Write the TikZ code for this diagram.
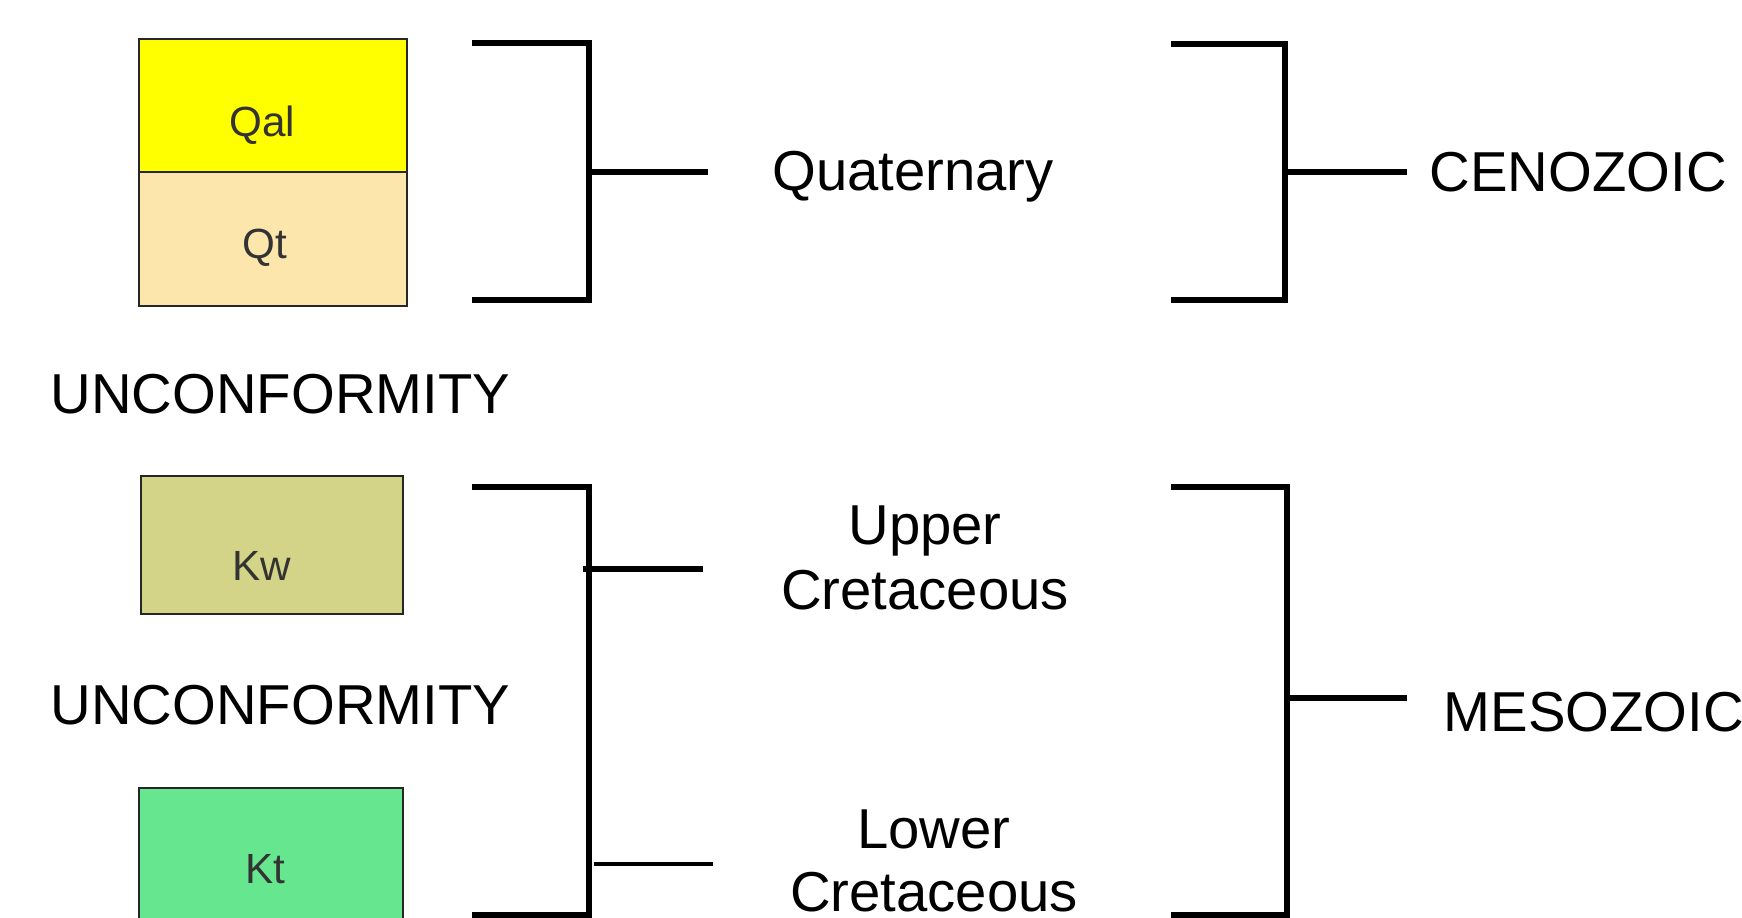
\documentclass[tikz,border=0pt]{standalone}
\usepackage{fontspec}
\setmainfont{Liberation Sans}
\definecolor{qalyellow}{HTML}{FFFF00}
\definecolor{qttan}{HTML}{FCE6AC}
\definecolor{kwolive}{HTML}{D3D487}
\definecolor{ktgreen}{HTML}{66E68E}
\tikzset{
  unit/.style={draw=black!85, line width=0.8pt},
  era/.style={font=\fontsize{16}{18}\selectfont, inner sep=0pt, anchor=base},
  unitlbl/.style={font=\fontsize{12}{14}\selectfont, text=black!80, inner sep=0pt, anchor=base},
  brk/.style={line width=1.85pt},
}

\begin{document}
\begin{tikzpicture}[x=0.01cm,y=-0.01cm]
        \useasboundingbox (0,0) rectangle (1742,918);
        % map units
        \draw[unit,fill=qalyellow] (139,39) rectangle (407,172);
        \draw[unit,fill=qttan] (139,172) rectangle (407,306);
        \draw[unit,fill=kwolive] (141,476) rectangle (403,614);
        \draw[unit,fill=ktgreen] (139,788) rectangle (403,940);
        \node[unitlbl] (qal) at (262,136) {Qal};
        \node[unitlbl] (qt) at (265,258) {Qt};
        \node[unitlbl] (kw) at (262,580) {Kw};
        \node[unitlbl] (kt) at (265,883) {Kt};
        \node[era,anchor=base west] (unc1) at (50,413) {UNCONFORMITY};
        \node[era,anchor=base west] (unc2) at (50,724) {UNCONFORMITY};
        % periods
        \coordinate (qtop) at (472,43);
        \coordinate (qbot) at (472,300);
        \draw[brk] (qtop)--(589,43)--(589,300)--(qbot);
        \coordinate (qmid) at (589,172);
        \coordinate (qend) at (708,172);
        \draw[brk] (qmid)--(qend);
        \node[era] (quat) at (913,190) {Quaternary};
        \coordinate (ktop) at (472,487);
        \coordinate (kbot) at (472,915);
        \draw[brk] (ktop)--(589,487)--(589,915)--(kbot);
        \coordinate (ku) at (583,569);
        \coordinate (kuend) at (703,569);
        \draw[brk] (ku)--(kuend);
        \coordinate (kl) at (594,864);
        \coordinate (klend) at (713,864);
        \draw[line width=1.15pt] (kl)--(klend);
        \node[era] (upperA) at (925,544) {Upper};
        \node[era] (upperB) at (925,609) {Cretaceous};
        \node[era] (lowerA) at (934,848) {Lower};
        \node[era] (lowerB) at (934,911) {Cretaceous};
        % eras
        \coordinate (ctop) at (1171,44);
        \coordinate (cbot) at (1171,300);
        \draw[brk] (ctop)--(1285,44)--(1285,300)--(cbot);
        \coordinate (cmid) at (1285,172);
        \coordinate (cend) at (1407,172);
        \draw[brk] (cmid)--(cend);
        \node[era,anchor=base west] (ceno) at (1429,191) {CENOZOIC};
        \coordinate (mtop) at (1171,487);
        \coordinate (mbot) at (1171,915);
        \draw[brk] (mtop)--(1287,487)--(1287,915)--(mbot);
        \coordinate (mmid) at (1287,698);
        \coordinate (mend) at (1407,698);
        \draw[brk] (mmid)--(mend);
        \node[era,anchor=base west] (meso) at (1443,731) {MESOZOIC};
\end{tikzpicture}
\end{document}
